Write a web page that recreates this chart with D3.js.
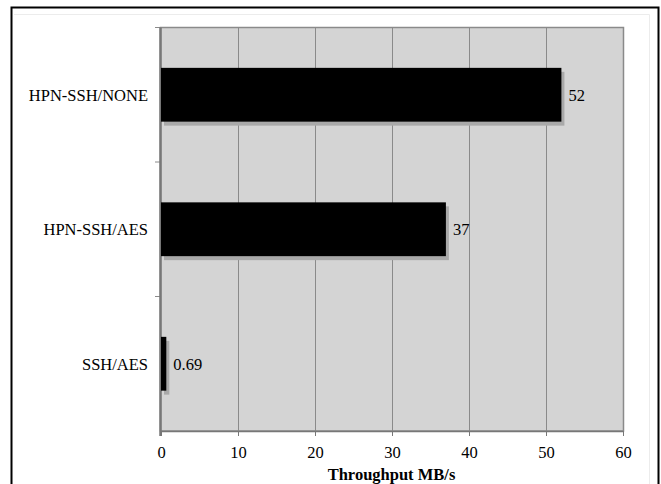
<!DOCTYPE html>
<html><head><meta charset="utf-8">
<script src="https://cdn.jsdelivr.net/npm/d3@7"></script>
<style>html,body{margin:0;padding:0;background:#fff;overflow:hidden}</style>
</head><body>
<script>
const categories = ["HPN-SSH/NONE", "HPN-SSH/AES", "SSH/AES"];
const values = [52, 37, 0.69];
const valueLabels = ["52", "37", "0.69"];
const xTicks = [0, 10, 20, 30, 40, 50, 60];
const axisTitle = "Throughput MB/s";

const W = 661, H = 484;
const svg = d3.select("body").append("svg").attr("width", W).attr("height", H);
const font = "'Liberation Serif','Times New Roman',serif";

// outer frame
svg.append("path").attr("d", "M11.5,500 V7.5 H658.5 V500").attr("fill", "none").attr("stroke", "#000").attr("stroke-width", 2);
svg.append("path").attr("d", "M14,14.5 H649.5 V500").attr("fill", "none").attr("stroke", "#ececec").attr("stroke-width", 1);

const L = 160, R = 623, T = 27.5, B = 431;
const x = d3.scaleLinear().domain([0, 60]).range([L + 1, R]);
const y = d3.scaleBand().domain(categories).range([T, B]).paddingInner(0.6).paddingOuter(0.3);

svg.append("rect").attr("x", L).attr("y", T).attr("width", R - L).attr("height", B - T).attr("fill", "#d4d4d4");

// gridlines
svg.append("g").selectAll("line").data(xTicks.slice(1)).join("line")
  .attr("x1", d => Math.round(x(d)) + 0.5).attr("x2", d => Math.round(x(d)) + 0.5)
  .attr("y1", T).attr("y2", B).attr("stroke", "#8a8a8a").attr("stroke-width", 1);

// plot border
svg.append("rect").attr("x", L + 0.5).attr("y", T).attr("width", R - L).attr("height", B - T)
  .attr("fill", "none").attr("stroke", "#8a8a8a").attr("stroke-width", 1.5);

// bottom axis
const xAxis = d3.axisBottom(x).tickValues(xTicks).tickSize(5).tickPadding(10).tickSizeOuter(0);
const gx = svg.append("g").attr("transform", `translate(0,${B})`).call(xAxis);
gx.select(".domain").attr("stroke", "#777").attr("stroke-width", 1.5);
gx.selectAll(".tick line").attr("stroke", "#777");
gx.selectAll(".tick text").attr("font-family", font).attr("font-size", "16.5px").attr("fill", "#000");

// left axis with separator ticks
const seps = [1, 2].map(i => y(categories[i]) - y.step() * y.paddingInner() / 2);
svg.append("g").selectAll("line").data([T, ...seps]).join("line")
  .attr("x1", L - 5).attr("x2", L).attr("y1", d => d).attr("y2", d => d)
  .attr("stroke", "#8a8a8a").attr("stroke-width", 1);
svg.append("line").attr("x1", L + 0.5).attr("x2", L + 0.5).attr("y1", T).attr("y2", B + 5)
  .attr("stroke", "#777").attr("stroke-width", 2.5);

// shadows
const data = categories.map((c, i) => ({c, v: values[i], lab: valueLabels[i]}));
svg.append("g").selectAll("rect").data(data).join("rect")
  .attr("x", x(0) + 3).attr("y", d => y(d.c) + 4)
  .attr("width", d => x(d.v) - x(0)).attr("height", y.bandwidth())
  .attr("fill", "#a9a9a9");
// bars
svg.append("g").selectAll("rect").data(data).join("rect")
  .attr("x", x(0)).attr("y", d => y(d.c))
  .attr("width", d => x(d.v) - x(0)).attr("height", y.bandwidth())
  .attr("fill", "#000");

// value labels
svg.append("g").selectAll("text").data(data).join("text")
  .attr("x", d => x(d.v) + 7).attr("y", d => y(d.c) + y.bandwidth() / 2)
  .attr("dy", "0.35em").attr("font-family", font).attr("font-size", "16.5px").attr("fill", "#000")
  .text(d => d.lab);

// category labels
svg.append("g").selectAll("text").data(categories).join("text")
  .attr("x", 148).attr("y", d => y(d) + y.bandwidth() / 2)
  .attr("dy", "0.35em").attr("text-anchor", "end")
  .attr("font-family", font).attr("font-size", "16.5px").attr("fill", "#000")
  .text(d => d);

// axis title
svg.append("text").attr("x", (L + R) / 2).attr("y", 479.5).attr("text-anchor", "middle")
  .attr("font-family", font).attr("font-size", "16.5px").attr("font-weight", "bold").attr("fill", "#000")
  .text(axisTitle);
</script>
</body></html>
